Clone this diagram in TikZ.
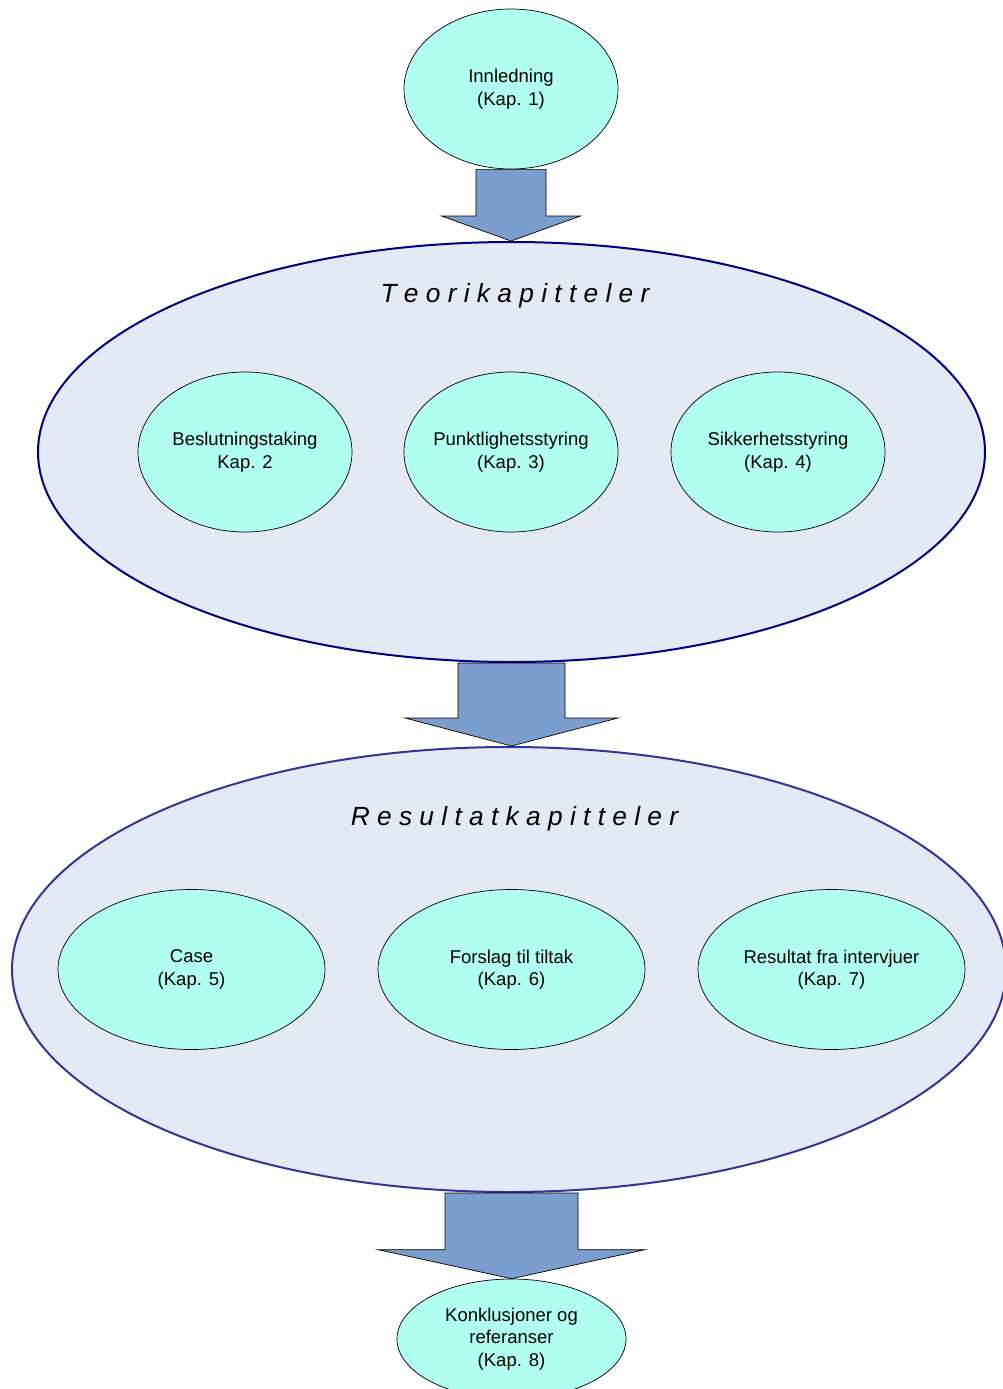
\documentclass[tikz,border=0pt]{standalone}
\usepackage{fontspec}
\setmainfont{Liberation Sans}
\usetikzlibrary{shapes.geometric,calc}

\definecolor{chapfill}{HTML}{B0FFF0}
\definecolor{groupfill}{HTML}{E3E9F5}
\definecolor{teoriline}{HTML}{000080}
\definecolor{resline}{HTML}{333399}
\definecolor{arrowfill}{HTML}{7C9ECF}

\tikzset{
  chapter/.style={ellipse, draw=black, line width=0.7pt, fill=chapfill,
    inner ysep=0pt, inner xsep=-8pt, align=center,
    font=\fontsize{18.5}{22.5}\selectfont},
  group/.style={ellipse, fill=groupfill, line width=2pt, inner sep=0pt},
  grouptitle/.style={font=\fontsize{26.3}{30}\selectfont\itshape},
  blockarrow/.style={draw=black, line width=0.7pt, fill=arrowfill, line join=miter},
}

% block arrow between two nodes: #1 from, #2 to, #3 shaft half width,
% #4 head half width, #5 head length, #6 node giving the arrow axis
\newcommand\blockarrowpath[6]{%
  \path[blockarrow] let \p1=(#1.south), \p2=(#2.north), \p3=(#6.center) in
    (\x3-#3,\y1) -- (\x3+#3,\y1) -- (\x3+#3,\y2+#5) -- (\x3+#4,\y2+#5)
    -- (\x3,\y2) -- (\x3-#4,\y2+#5) -- (\x3-#3,\y2+#5) -- cycle;}

\begin{document}
\begin{tikzpicture}[x=1pt,y=-1pt]
  \useasboundingbox (0,0) rectangle (1003,1389);
  \clip (0,0) rectangle (1003,1389);

  % chapter groups
  \node[group, draw=teoriline, minimum width=947pt, minimum height=420pt]
    (teori) at (511.5,452) {};
  \node[group, draw=resline, minimum width=994pt, minimum height=445pt]
    (res) at (509,969.5) {};

  \node[grouptitle] (teorititle) at (515,296) {T e o r i k a p i t t e l e r};
  \node[grouptitle] (restitle) at (514.5,819) {R e s u l t a t k a p i t t e l e r};

  % chapters
  \node[chapter, minimum width=214pt, minimum height=160pt]
    (innl) at (511,89) {Innledning\\(Kap. 1)};

  \node[chapter, minimum width=214pt, minimum height=160pt]
    (besl) at (245,452) {Beslutningstaking\\Kap. 2};
  \node[chapter, minimum width=214pt, minimum height=160pt]
    (punkt) at (511,452) {Punktlighetsstyring\\(Kap. 3)};
  \node[chapter, minimum width=214pt, minimum height=160pt]
    (sikk) at (778,452) {Sikkerhetsstyring\\(Kap. 4)};

  \node[chapter, minimum width=267pt, minimum height=160pt]
    (case) at (191.5,969.5) {Case\\(Kap. 5)};
  \node[chapter, minimum width=267pt, minimum height=160pt]
    (forslag) at (511.5,969.5) {Forslag til tiltak\\(Kap. 6)};
  \node[chapter, minimum width=267pt, minimum height=160pt]
    (intervju) at (831.5,969.5) {Resultat fra intervjuer\\(Kap. 7)};

  \node[chapter, minimum width=229pt, minimum height=120pt]
    (konkl) at (511.5,1339) {Konklusjoner og\\referanser\\(Kap. 8)};

  % flow arrows
  \blockarrowpath{innl}{teori}{35pt}{69.5pt}{25pt}{innl}
  \blockarrowpath{teori}{res}{53.5pt}{106.5pt}{28pt}{teori}
  \blockarrowpath{res}{konkl}{66.5pt}{133.5pt}{29pt}{konkl}
\end{tikzpicture}
\end{document}
